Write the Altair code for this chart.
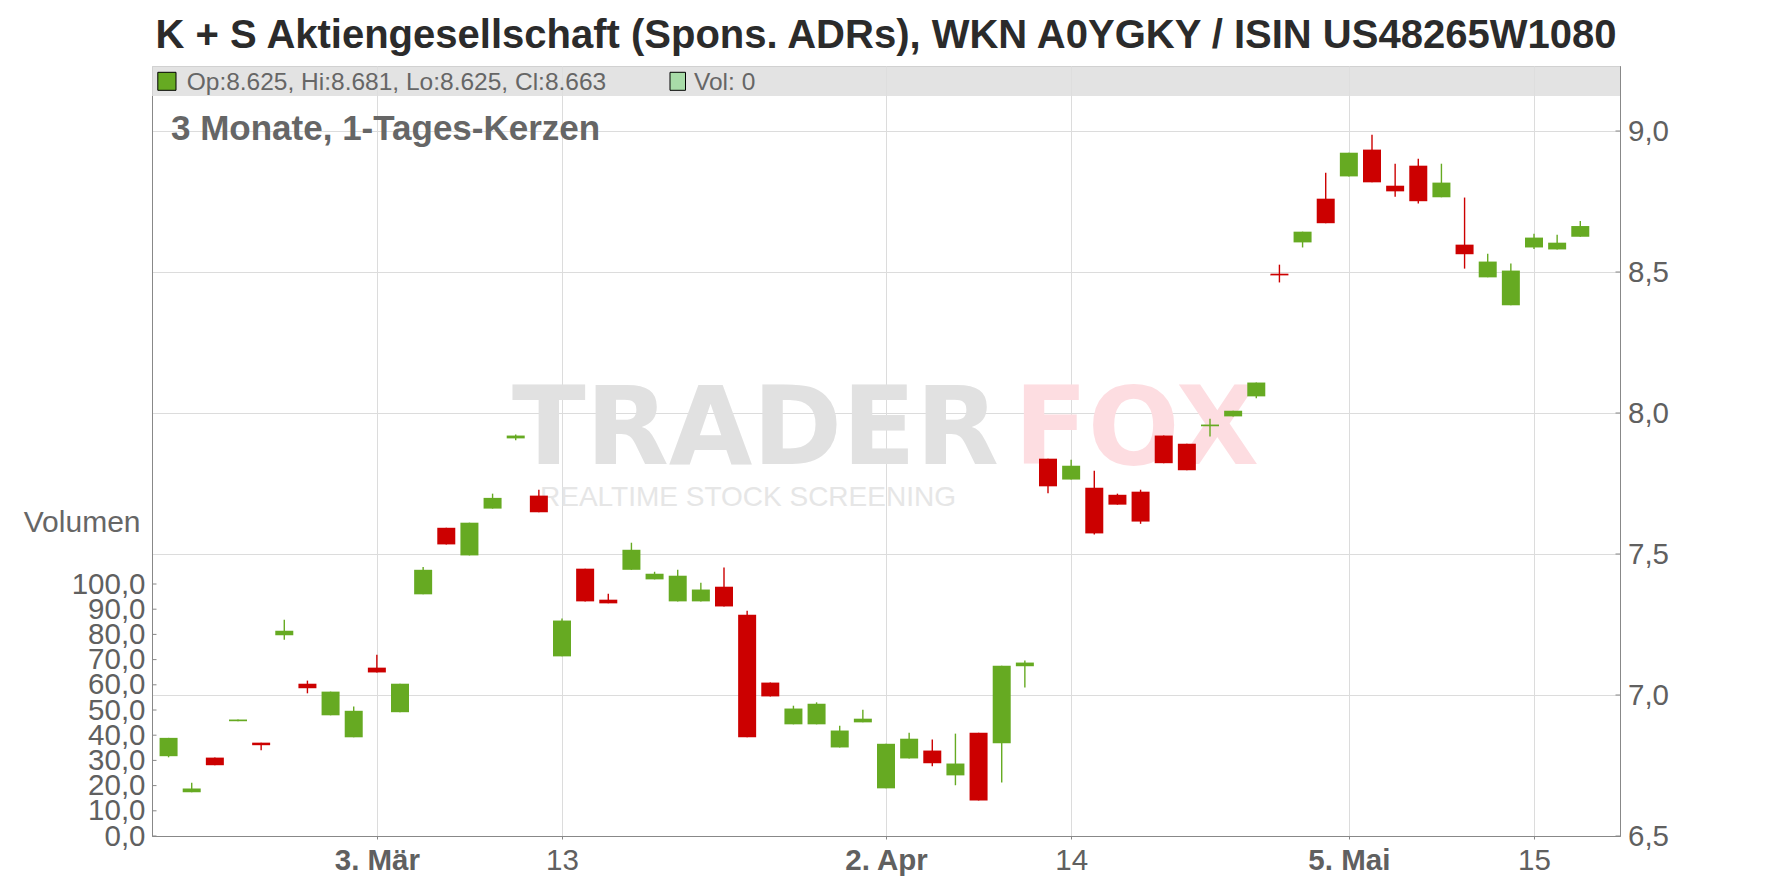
import altair as alt
import pandas as pd

# ---------------- data ----------------
dates = [
    "2025-02-18", "2025-02-19", "2025-02-20", "2025-02-21", "2025-02-24", "2025-02-25",
    "2025-02-26", "2025-02-27", "2025-02-28", "2025-03-03", "2025-03-04", "2025-03-05",
    "2025-03-06", "2025-03-07", "2025-03-10", "2025-03-11", "2025-03-12", "2025-03-13",
    "2025-03-14", "2025-03-17", "2025-03-18", "2025-03-19", "2025-03-20", "2025-03-21",
    "2025-03-24", "2025-03-25", "2025-03-26", "2025-03-27", "2025-03-28", "2025-03-31",
    "2025-04-01", "2025-04-02", "2025-04-03", "2025-04-04", "2025-04-07", "2025-04-08",
    "2025-04-09", "2025-04-10", "2025-04-11", "2025-04-14", "2025-04-15", "2025-04-16",
    "2025-04-17", "2025-04-22", "2025-04-23", "2025-04-24", "2025-04-25", "2025-04-28",
    "2025-04-29", "2025-04-30", "2025-05-02", "2025-05-05", "2025-05-06", "2025-05-07",
    "2025-05-08", "2025-05-09", "2025-05-12", "2025-05-13", "2025-05-14", "2025-05-15",
    "2025-05-16", "2025-05-19",
]
opens = [
    6.783, 6.655, 6.778, 6.907, 6.831, 7.212, 7.040, 6.928, 6.850, 7.097,
    6.939, 7.357, 7.593, 7.495, 7.661, 7.910, 7.707, 7.137, 7.448, 7.338,
    7.444, 7.410, 7.332, 7.332, 7.384, 7.285, 7.044, 6.896, 6.896, 6.814,
    6.903, 6.669, 6.775, 6.803, 6.715, 6.866, 6.829, 7.102, 7.838, 7.764,
    7.735, 7.710, 7.721, 7.920, 7.891, 7.953, 7.988, 8.059, 8.494, 8.605,
    8.760, 8.839, 8.934, 8.806, 8.877, 8.765, 8.597, 8.481, 8.382, 8.587,
    8.580, 8.625,
]
highs = [
    6.848, 6.689, 6.778, 6.913, 6.831, 7.267, 7.051, 7.012, 6.959, 7.143,
    7.040, 7.454, 7.593, 7.611, 7.714, 7.924, 7.728, 7.271, 7.448, 7.359,
    7.540, 7.437, 7.444, 7.398, 7.452, 7.299, 7.044, 6.962, 6.974, 6.891,
    6.948, 6.827, 6.866, 6.842, 6.863, 6.866, 7.104, 7.122, 7.838, 7.834,
    7.795, 7.714, 7.728, 7.920, 7.891, 7.980, 8.008, 8.108, 8.526, 8.643,
    8.852, 8.923, 8.987, 8.884, 8.902, 8.884, 8.764, 8.565, 8.530, 8.636,
    8.632, 8.681,
]
lows = [
    6.779, 6.655, 6.751, 6.907, 6.804, 7.196, 7.006, 6.928, 6.850, 7.080,
    6.939, 7.357, 7.534, 7.495, 7.661, 7.903, 7.648, 7.137, 7.332, 7.325,
    7.444, 7.410, 7.332, 7.332, 7.314, 6.850, 6.995, 6.896, 6.896, 6.814,
    6.903, 6.669, 6.775, 6.747, 6.680, 6.626, 6.690, 7.027, 7.715, 7.764,
    7.569, 7.675, 7.607, 7.822, 7.797, 7.917, 7.988, 8.052, 8.463, 8.587,
    8.673, 8.839, 8.818, 8.767, 8.743, 8.765, 8.512, 8.481, 8.382, 8.582,
    8.580, 8.625,
]
closes = [
    6.848, 6.668, 6.751, 6.913, 6.822, 7.228, 7.024, 7.012, 6.944, 7.080,
    7.040, 7.444, 7.534, 7.611, 7.699, 7.920, 7.648, 7.264, 7.332, 7.325,
    7.515, 7.430, 7.423, 7.374, 7.314, 6.850, 6.995, 6.952, 6.969, 6.874,
    6.916, 6.827, 6.845, 6.758, 6.757, 6.626, 7.104, 7.115, 7.740, 7.813,
    7.573, 7.675, 7.615, 7.822, 7.797, 7.959, 8.008, 8.108, 8.488, 8.643,
    8.673, 8.923, 8.818, 8.786, 8.751, 8.817, 8.563, 8.537, 8.505, 8.622,
    8.604, 8.663,
]
volumes = [
    0, 0, 0, 0, 0, 0, 0, 0, 0, 0, 0, 0, 0, 0, 0, 0, 0, 0, 0, 0, 0,
    0, 0, 0, 0, 0, 0, 0, 0, 0, 0, 0, 0, 0, 0, 0, 0, 0, 0, 0, 0, 0,
    0, 0, 0, 0, 0, 0, 0, 0, 0, 0, 0, 0, 0, 0, 0, 0, 0, 0, 0, 0,
]

tick_dates = ["2025-03-03", "2025-03-13", "2025-04-02", "2025-04-14", "2025-05-05", "2025-05-15"]
tick_labels = ["3. Mär", "13", "2. Apr", "14", "5. Mai", "15"]
tick_bold = [True, False, True, False, True, False]
price_ticks = [6.5, 7.0, 7.5, 8.0, 8.5, 9.0]
volume_ticks = [0, 10, 20, 30, 40, 50, 60, 70, 80, 90, 100]

title_text = "K + S Aktiengesellschaft (Spons. ADRs), WKN A0YGKY / ISIN US48265W1080"
subtitle_text = "3 Monate, 1-Tages-Kerzen"
volume_title = "Volumen"

# ---------------- styling ----------------
W, H = 1468, 770
GREEN, RED = "#66aa22", "#cc0000"
VOL_GREEN = "#a8dca8"
GRID = "#dcdcdc"
FRAME = "#888888"
LABEL = "#606060"
FONT = "Liberation Sans"

n = len(dates)
df = pd.DataFrame({
    "i": list(range(n)), "date": dates,
    "open": opens, "high": highs, "low": lows, "close": closes, "volume": volumes,
})
df["dir"] = ["up" if c >= o else "down" for o, c in zip(opens, closes)]

tick_idx = [dates.index(d) for d in tick_dates]
label_expr = " : ".join(f"datum.value == {i} ? '{t}'" for i, t in zip(tick_idx, tick_labels)) + " : ''"
bold_test = " || ".join(f"datum.value == {i}" for i, b in zip(tick_idx, tick_bold) if b)

x_enc = alt.X(
    "i:Q",
    scale=alt.Scale(domain=[-0.5, n + 0.5], nice=False, zero=False),
    axis=alt.Axis(
        values=tick_idx, labelExpr=label_expr, title=None, grid=True, gridColor=GRID,
        labelFontSize=29.5, labelColor=LABEL, labelFont=FONT, labelOverlap=False,
        labelFontWeight={"condition": {"test": bold_test, "value": "bold"}, "value": "normal"},
        tickSize=3, tickColor=FRAME, domainColor=FRAME, labelPadding=7,
    ),
)

price_scale = alt.Scale(domain=[6.5, 6.5 + H / 282.0], nice=False, zero=False)
price_axis = alt.Axis(
    orient="right", values=price_ticks, title=None, grid=True, gridColor=GRID,
    labelExpr="replace(format(datum.value, '.1f'), '.', ',')",
    labelFontSize=29.5, labelColor=LABEL, labelFont=FONT, labelOverlap=False,
    ticks=False, tickSize=0, labelPadding=7.5, domainColor=FRAME,
)
vol_scale = alt.Scale(domain=[0, H / 2.52], nice=False, zero=True)
vol_axis = alt.Axis(
    orient="left", values=volume_ticks, grid=False, title=volume_title,
    labelExpr="replace(format(datum.value, '.1f'), '.', ',')",
    labelFontSize=29.5, labelColor=LABEL, labelFont=FONT, labelOverlap=False,
    ticks=False, tickSize=0, labelPadding=7, domainColor=FRAME,
    titleAngle=0, titleX=-12, titleY=456, titleAlign="right", titleBaseline="middle",
    titleFontSize=30, titleFontWeight="normal", titleColor="#666666", titleFont=FONT,
)

color_enc = alt.Color("dir:N", scale=alt.Scale(domain=["up", "down"], range=[GREEN, RED]), legend=None)


def text_layer(txt, x, y, size, color, weight="normal", align="left", font=FONT):
    return alt.Chart(pd.DataFrame({"t": [txt]})).mark_text(
        align=align, baseline="alphabetic", fontSize=size, font=font,
        fontWeight=weight, color=color,
    ).encode(x=alt.value(x), y=alt.value(y), text="t:N")


# watermark
wm1 = text_layer("TRADER", 360, 398, 108, "#e1e1e1", "bold", font="DejaVu Sans")
wm2 = text_layer("FOX", 862, 398, 108, "#fddde1", "bold", font="DejaVu Sans")
wm3 = text_layer("REALTIME STOCK SCREENING", 388, 440, 28, "#e6e6e6")

# legend band
band = alt.Chart(pd.DataFrame({"a": [0]})).mark_rect(color="#dedede", opacity=0.85).encode(
    x=alt.value(0), x2=alt.value(W), y=alt.value(0), y2=alt.value(30)
)
last = df.iloc[-1]
legend_str = f"Op:{last.open:.3f}, Hi:{last.high:.3f}, Lo:{last.low:.3f}, Cl:{last.close:.3f}"
sw1 = alt.Chart(pd.DataFrame({"a": [0]})).mark_rect(color=GREEN, stroke="black", strokeWidth=1).encode(
    x=alt.value(5.8), x2=alt.value(24), y=alt.value(6.3), y2=alt.value(24.3)
)
sw2 = alt.Chart(pd.DataFrame({"a": [0]})).mark_rect(color=VOL_GREEN, stroke="black", strokeWidth=1).encode(
    x=alt.value(518), x2=alt.value(533.5), y=alt.value(6.3), y2=alt.value(24.3)
)
leg1 = text_layer(legend_str, 34.7, 24.3, 24.5, "#666666")
leg2 = text_layer(f"Vol: {int(volumes[-1])}", 542, 24.3, 24.5, "#666666")
sub = text_layer(subtitle_text, 19, 74.3, 35, "#666666", "bold")
ttl = text_layer(title_text, W / 2, -18.4, 40, "#2b2b2b", "bold", align="center")

base = alt.Chart(df)
wicks = base.mark_rule(strokeWidth=1.4).encode(
    x=x_enc, y=alt.Y("low:Q", scale=price_scale, axis=price_axis), y2="high:Q", color=color_enc
)
bodies = base.mark_bar(size=18).encode(
    x=x_enc, y=alt.Y("open:Q", scale=price_scale, axis=price_axis), y2="close:Q", color=color_enc
)
pticks = alt.Chart(pd.DataFrame({"p": price_ticks})).mark_rule(color=FRAME, strokeWidth=1).encode(
    y=alt.Y("p:Q", scale=price_scale, axis=price_axis), x=alt.value(W - 4.5), x2=alt.value(W)
)

price_layer = alt.layer(wm1, wm2, wm3, band, sw1, leg1, sw2, leg2, sub, ttl, wicks, bodies, pticks)

vbars = base.mark_bar(size=18, color=VOL_GREEN).encode(
    x=x_enc, y=alt.Y("volume:Q", scale=vol_scale, axis=vol_axis)
)
vticks = alt.Chart(pd.DataFrame({"v": volume_ticks})).mark_rule(color=FRAME, strokeWidth=1).encode(
    y=alt.Y("v:Q", scale=vol_scale, axis=vol_axis), x=alt.value(0), x2=alt.value(4.5)
)
vol_layer = alt.layer(vbars, vticks)

chart = alt.layer(price_layer, vol_layer).resolve_scale(y="independent").properties(
    width=W, height=H,
    autosize=alt.AutoSizeParams(type="none"),
    padding={"left": 144, "top": 58, "right": 140, "bottom": 40},
    background="white",
).configure(font=FONT).configure_view(stroke=FRAME, strokeWidth=1)

chart.save("out.html", embed_options={"renderer": "svg", "actions": False})
